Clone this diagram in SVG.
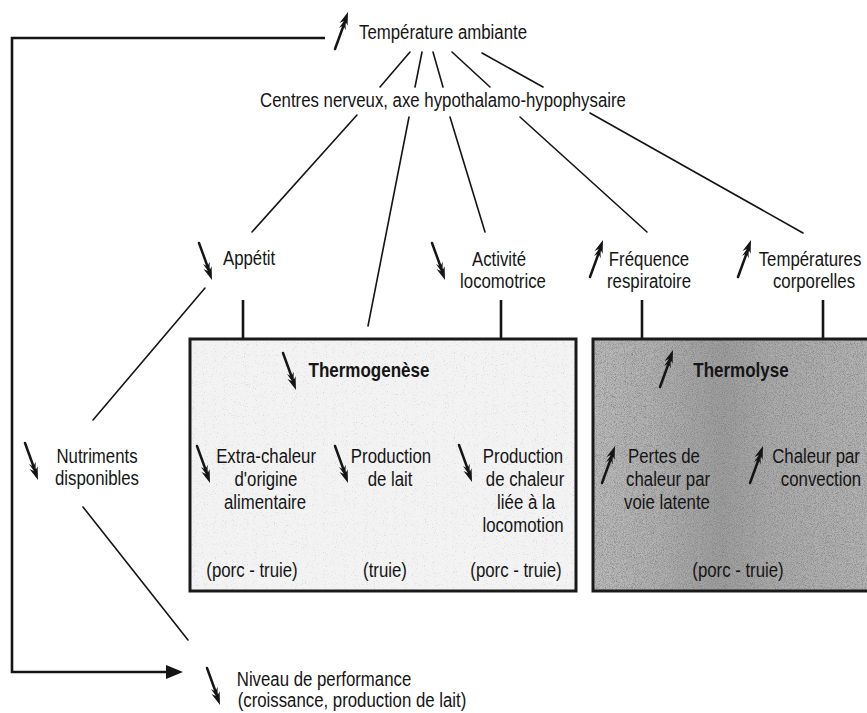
<svg xmlns="http://www.w3.org/2000/svg" xmlns:xlink="http://www.w3.org/1999/xlink" width="867" height="713" viewBox="0 0 867 713">
  <style>
    text { font-family: "Liberation Sans", Arial, sans-serif; font-size: 21px; fill: #151515; text-anchor: middle;
           transform-box: fill-box; transform-origin: center; transform: scaleX(0.8); }
    text.b { font-weight: bold; font-size: 21px; transform: scaleX(0.81); }
    .ln { stroke: #151515; stroke-width: 1.6; fill: none; stroke-linecap: round; }
    .tk { stroke: #151515; stroke-width: 2.6; fill: none; }
    .fb { stroke: #151515; stroke-width: 2.6; fill: none; }
    .frame { fill: none; stroke: #1a1a1a; stroke-width: 3; }
  </style>
  <defs>
    <!-- feathered "increase" arrow, 17 x 38 -->
    <g id="up">
      <path d="M2,37 L12.2,9" stroke="#151515" stroke-width="2.5" stroke-linecap="round" fill="none"/>
      <polygon points="15,0 6.5,11 11.9,8.5 14.6,13.8" fill="#151515"/>
      <polygon points="12.4,7 6,16 10.3,13.4 12.7,18.2" fill="#151515"/>
    </g>
    <!-- "decrease" arrow: the same glyph mirrored -->
    <g id="dn">
      <use xlink:href="#up" href="#up" transform="matrix(1,0,0,-1,0,38)"/>
    </g>
    <linearGradient id="lysis" x1="593" y1="0" x2="880" y2="0" gradientUnits="userSpaceOnUse">
      <stop offset="0" stop-color="#bcbcbc"/>
      <stop offset="0.22" stop-color="#b2b2b2"/>
      <stop offset="0.45" stop-color="#9e9e9e"/>
      <stop offset="0.62" stop-color="#acacac"/>
      <stop offset="1" stop-color="#b6b6b6"/>
    </linearGradient>
    <filter id="grainDark" x="0" y="0" width="100%" height="100%">
      <feTurbulence type="fractalNoise" baseFrequency="1.1" numOctaves="2" seed="4" result="n"/>
      <feColorMatrix in="n" type="matrix" values="0 0 0 0 0.2  0 0 0 0 0.2  0 0 0 0 0.2  1.9 0 0 0 -0.72" result="dots"/>
      <feComposite in="dots" in2="SourceGraphic" operator="atop"/>
    </filter>
    <filter id="grainLight" x="0" y="0" width="100%" height="100%">
      <feTurbulence type="fractalNoise" baseFrequency="0.9" numOctaves="2" seed="9" result="n"/>
      <feColorMatrix in="n" type="matrix" values="0 0 0 0 0.45  0 0 0 0 0.45  0 0 0 0 0.45  2.0 0 0 0 -1.2" result="dots"/>
      <feComposite in="dots" in2="SourceGraphic" operator="atop"/>
    </filter>
  </defs>

  <!-- connectors -->
  <g id="connectors">
    <!-- feedback loop from ambient temperature to performance -->
    <path class="fb" d="M325,38 H12 V672 H170"/>
    <polygon points="183,672 166,665 166,679" fill="#151515"/>
    <!-- ambient temperature to nervous centres -->
    <line class="ln" x1="410" y1="52" x2="380" y2="87"/>
    <line class="ln" x1="422" y1="52" x2="415" y2="87"/>
    <line class="ln" x1="433" y1="52" x2="443" y2="87"/>
    <line class="ln" x1="452" y1="52" x2="490" y2="87"/>
    <line class="ln" x1="482" y1="53" x2="543" y2="87"/>
    <!-- nervous centres to responses -->
    <line class="ln" x1="357" y1="115" x2="252" y2="232"/>
    <line class="ln" x1="409" y1="117" x2="368" y2="326"/>
    <line class="ln" x1="450" y1="117" x2="485" y2="232"/>
    <line class="ln" x1="520" y1="117" x2="647" y2="232"/>
    <line class="ln" x1="590" y1="113" x2="803" y2="233"/>
    <!-- appetite to nutrients to performance -->
    <line class="ln" x1="205" y1="288" x2="93" y2="420"/>
    <line class="ln" x1="83" y1="507" x2="188" y2="640"/>
    <!-- ticks into the boxes -->
    <line class="tk" x1="243" y1="300" x2="243" y2="339"/>
    <line class="tk" x1="501" y1="300" x2="501" y2="339"/>
    <line class="tk" x1="642" y1="300" x2="642" y2="339"/>
    <line class="tk" x1="823" y1="300" x2="823" y2="339"/>
  </g>

  <g id="temperature-ambiante">
    <use xlink:href="#up" href="#up" x="333" y="12"/>
    <text x="443" y="39">Température ambiante</text>
  </g>

  <g id="centres-nerveux">
    <text x="443" y="107">Centres nerveux, axe hypothalamo-hypophysaire</text>
  </g>

  <g id="appetit">
    <use xlink:href="#dn" href="#dn" x="197" y="242"/>
    <text x="249" y="265">Appétit</text>
  </g>

  <g id="activite">
    <use xlink:href="#dn" href="#dn" x="430" y="242"/>
    <text x="499" y="266">Activité</text>
    <text x="503" y="288">locomotrice</text>
  </g>

  <g id="frequence">
    <use xlink:href="#up" href="#up" x="588" y="240"/>
    <text x="649" y="266">Fréquence</text>
    <text x="649" y="288">respiratoire</text>
  </g>

  <g id="temperatures-corporelles">
    <use xlink:href="#up" href="#up" x="736" y="240"/>
    <text x="810" y="266">Températures</text>
    <text x="814" y="288">corporelles</text>
  </g>

  <g id="thermogenese">
    <rect x="190" y="339" width="386" height="252" fill="#f3f3f3" filter="url(#grainLight)"/>
    <rect class="frame" x="190" y="339" width="386" height="252"/>
    <use xlink:href="#dn" href="#dn" x="281" y="352"/>
    <text class="b" x="369" y="377">Thermogenèse</text>
    <use xlink:href="#dn" href="#dn" x="195" y="445"/>
    <text x="266" y="463">Extra-chaleur</text>
    <text x="266" y="486">d'origine</text>
    <text x="265" y="509">alimentaire</text>
    <use xlink:href="#dn" href="#dn" x="333" y="445"/>
    <text x="391" y="463">Production</text>
    <text x="390" y="486">de lait</text>
    <use xlink:href="#dn" href="#dn" x="457" y="444"/>
    <text x="523" y="463">Production</text>
    <text x="525" y="486">de chaleur</text>
    <text x="526" y="509">liée à la</text>
    <text x="523" y="532">locomotion</text>
    <text x="252" y="577">(porc - truie)</text>
    <text x="385" y="577">(truie)</text>
    <text x="516" y="577">(porc - truie)</text>
  </g>

  <g id="thermolyse">
    <rect x="593" y="339" width="290" height="252" fill="url(#lysis)" filter="url(#grainDark)"/>
    <rect class="frame" x="593" y="339" width="290" height="252"/>
    <use xlink:href="#up" href="#up" x="658" y="350"/>
    <text class="b" x="741" y="377">Thermolyse</text>
    <use xlink:href="#up" href="#up" x="600" y="446"/>
    <text x="664" y="463">Pertes de</text>
    <text x="668" y="486">chaleur par</text>
    <text x="667" y="509">voie latente</text>
    <use xlink:href="#up" href="#up" x="748" y="446"/>
    <text x="816" y="463">Chaleur par</text>
    <text x="821" y="486">convection</text>
    <text x="738" y="577">(porc - truie)</text>
  </g>

  <g id="nutriments">
    <use xlink:href="#dn" href="#dn" x="23" y="442"/>
    <text x="97" y="463">Nutriments</text>
    <text x="97" y="485">disponibles</text>
  </g>

  <g id="niveau-performance">
    <use xlink:href="#dn" href="#dn" x="205" y="667"/>
    <text x="324" y="686">Niveau de performance</text>
    <text x="352" y="707">(croissance, production de lait)</text>
  </g>
</svg>
